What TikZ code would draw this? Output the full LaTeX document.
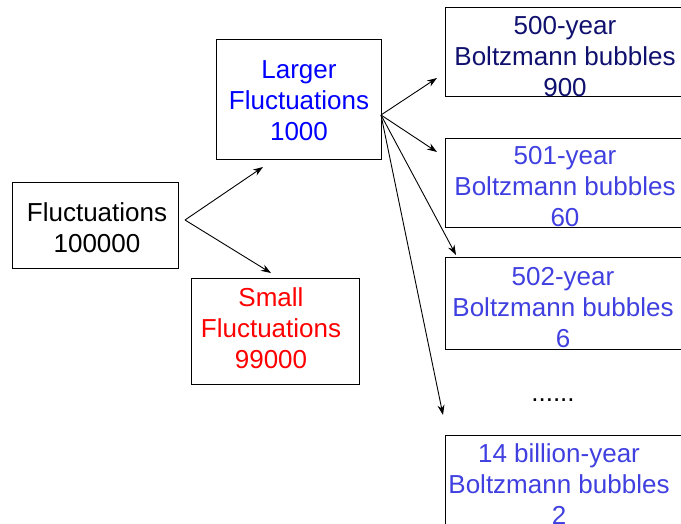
\documentclass[tikz,border=0pt]{standalone}
\usepackage{fontspec}
\setmainfont{Liberation Sans}
\usetikzlibrary{arrows.meta}
\definecolor{navy}{RGB}{16,16,110}
\definecolor{midblue}{RGB}{64,64,224}
\definecolor{pureblue}{RGB}{0,0,255}
\definecolor{purered}{RGB}{255,0,0}
\tikzset{
  box/.style={draw, line width=1pt, inner sep=0pt},
  lbl/.style={align=center, inner sep=0pt, font=\fontsize{26}{31}\selectfont},
  link/.style={-{Stealth[length=10pt,width=7pt]}, line width=0.9pt}
}
\begin{document}
\begin{tikzpicture}[x=1pt,y=-1pt]
       \useasboundingbox(0,0)rectangle(681,524);
       \clip(0,0)rectangle(681,524);
       % boxes
       \node[box, minimum width=166pt, minimum height=86pt](Fluct)at(95,226){};
       \node[box, minimum width=165pt, minimum height=120pt](Larger)at(298.5,100){};
       \node[box, minimum width=168pt, minimum height=105pt](Small)at(275,331.5){};
       \node[box, minimum width=240pt, minimum height=89pt](Year500)at(565,52.5){};
       \node[box, minimum width=240pt, minimum height=89pt](Year501)at(565,183.5){};
       \node[box, minimum width=240pt, minimum height=91pt](Year502)at(565,303.5){};
       \node[box, minimum width=240pt, minimum height=110pt](Year14b)at(565,490){};
       % texts
       \node[lbl](FluctText)at(97,228){Fluctuations\\100000};
       \node[lbl, text=pureblue](LargerText)at(299,101){Larger\\Fluctuations\\1000};
       \node[lbl, text=purered](SmallText)at(271,328){Small\\Fluctuations\\99000};
       \node[lbl, text=navy](Year500Text)at(565,57){500-year\\Boltzmann bubbles\\900};
       \node[lbl, text=midblue](Year501Text)at(565,187){501-year\\Boltzmann bubbles\\60};
       \node[lbl, text=midblue](Year502Text)at(563,308){502-year\\Boltzmann bubbles\\6};
       \node[lbl](Dots)at(553,400){......};
       \node[lbl, text=midblue](Year14bText)at(559,484){14 billion-year\\Boltzmann bubbles\\2};
       % arrows
       \coordinate(FluctOut)at(185,220);
       \coordinate(LargerIn)at(263,167);
       \coordinate(SmallIn)at(271,273);
       \coordinate(LargerOut)at(381,115);
       \coordinate(Year500In)at(437,78);
       \coordinate(Year501In)at(437,152);
       \coordinate(Year502In)at(456,255);
       \coordinate(Year14bIn)at(443,415);
       \draw[link](FluctOut)--(LargerIn);
       \draw[link](FluctOut)--(SmallIn);
       \draw[link](LargerOut)--(Year500In);
       \draw[link](LargerOut)--(Year501In);
       \draw[link](LargerOut)--(Year502In);
       \draw[link](LargerOut)--(Year14bIn);
\end{tikzpicture}
\end{document}
